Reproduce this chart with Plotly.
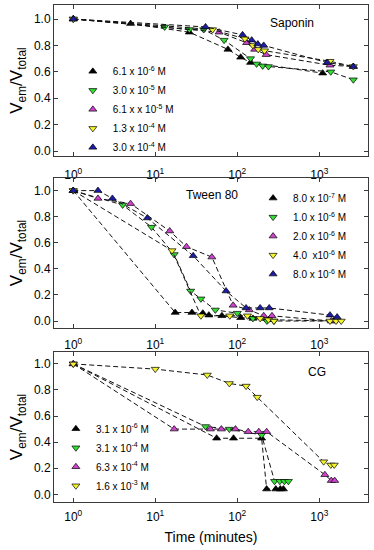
import plotly.graph_objects as go

# ---------------- data ----------------
# Saponin
sap_t_61e6 = [1, 5, 26, 77, 110, 145, 1100]
sap_v_61e6 = [1.0, 0.965, 0.90, 0.77, 0.71, 0.67, 0.59]
sap_t_30e5 = [1, 13, 26, 39, 69, 145, 172, 204, 240, 1380, 2600]
sap_v_30e5 = [1.0, 0.94, 0.92, 0.92, 0.84, 0.70, 0.66, 0.645, 0.64, 0.60, 0.54]
sap_t_61e5 = [1, 60, 130, 163, 225, 1350, 2600]
sap_v_61e5 = [1.0, 0.90, 0.82, 0.77, 0.73, 0.65, 0.64]
sap_t_13e4 = [1, 50, 124, 155, 180, 215, 1350, 2600]
sap_v_13e4 = [1.0, 0.92, 0.85, 0.80, 0.77, 0.76, 0.68, 0.64]
sap_t_30e4 = [1, 41, 116, 150, 178, 210, 1250, 2600]
sap_v_30e4 = [1.0, 0.94, 0.88, 0.84, 0.81, 0.80, 0.67, 0.64]

# Tween 80
tw_t_80e7 = [1, 17.5, 28, 38, 45, 65, 110, 155, 240, 1500]
tw_v_80e7 = [1.0, 0.065, 0.065, 0.06, 0.045, 0.04, 0.025, 0.02, 0.01, 0.0]
tw_t_10e6 = [1, 4, 9, 17, 27, 36, 54, 100, 155, 230, 280]
tw_v_10e6 = [1.0, 0.89, 0.72, 0.51, 0.23, 0.17, 0.085, 0.06, 0.02, 0.0, 0.0]
tw_t_20e6 = [1, 2, 5, 15, 24, 49, 89, 140, 210, 265, 1400]
tw_v_20e6 = [1.0, 0.94, 0.90, 0.69, 0.57, 0.49, 0.12, 0.085, 0.04, 0.04, 0.0]
tw_t_40e6 = [1, 16, 36, 81, 133, 190, 240, 280, 1350, 1600, 1850]
tw_v_40e6 = [1.0, 0.54, 0.04, 0.04, 0.04, 0.02, 0.01, 0.0, 0.0, 0.0, 0.0]
tw_t_80e6 = [1, 2, 3, 8, 29, 73, 128, 190, 245, 1350, 1650]
tw_v_80e6 = [1.0, 1.0, 0.94, 0.79, 0.50, 0.23, 0.10, 0.10, 0.10, 0.045, 0.03]

# CG
cg_t_31e6 = [1, 56, 90, 198, 228, 295, 335, 365]
cg_v_31e6 = [1.0, 0.43, 0.43, 0.43, 0.04, 0.04, 0.04, 0.04]
cg_t_31e4 = [1, 41, 80, 198, 285, 330, 375, 420]
cg_v_31e4 = [1.0, 0.52, 0.50, 0.455, 0.10, 0.10, 0.10, 0.10]
cg_t_63e4 = [1, 17, 47, 64, 95, 136, 183, 228, 1170, 1400, 1540]
cg_v_63e4 = [1.0, 0.50, 0.50, 0.50, 0.50, 0.48, 0.48, 0.48, 0.15, 0.105, 0.105]
cg_t_16e3 = [1, 10, 43, 80, 128, 175, 1130, 1380, 1520]
cg_v_16e3 = [1.0, 0.96, 0.915, 0.85, 0.83, 0.745, 0.25, 0.225, 0.225]

sap_labels = ["6.1 x 10<sup>-6</sup> M", "3.0 x 10<sup>-5</sup> M", "6.1 x x 10<sup>-5</sup> M",
              "1.3 x 10<sup>-4</sup> M", "3.0 x 10<sup>-4</sup> M"]
tw_labels = ["8.0 x 10<sup>-7</sup> M", "1.0 x 10<sup>-6</sup> M", "2.0 x 10<sup>-6</sup> M",
             "4.0 \u00a0x10<sup>-6</sup> M", "8.0 x 10<sup>-6</sup> M"]
cg_labels = ["3.1 x 10<sup>-6</sup> M", "3.1 x 10<sup>-4</sup> M", "6.3 x 10<sup>-4</sup> M",
             "1.6 x 10<sup>-3</sup> M"]

x_tickvals = [1, 10, 100, 1000]
x_ticktext = ["10<sup>0</sup>", "10<sup>1</sup>", "10<sup>2</sup>", "10<sup>3</sup>"]
y_tickvals = [0.0, 0.2, 0.4, 0.6, 0.8, 1.0]

# ---------------- style ----------------
BLACK = "#000000"
GREEN = "#33dd33"
MAGENTA = "#cc44cc"
YELLOW = "#f4f42a"
NAVY = "#1c1ca6"
UP, DOWN = "triangle-up", "triangle-down"

FONT = "Liberation Sans, Arial, sans-serif"
AXC = "#3a3a3a"

panels = [
    dict(xa="x", ya="y", legend="legend", labels=sap_labels,
         series=[(sap_t_61e6, sap_v_61e6, BLACK, UP), (sap_t_30e5, sap_v_30e5, GREEN, DOWN),
                 (sap_t_61e5, sap_v_61e5, MAGENTA, UP), (sap_t_13e4, sap_v_13e4, YELLOW, DOWN),
                 (sap_t_30e4, sap_v_30e4, NAVY, UP)]),
    dict(xa="x2", ya="y2", legend="legend2", labels=tw_labels,
         series=[(tw_t_80e7, tw_v_80e7, BLACK, UP), (tw_t_10e6, tw_v_10e6, GREEN, DOWN),
                 (tw_t_20e6, tw_v_20e6, MAGENTA, UP), (tw_t_40e6, tw_v_40e6, YELLOW, DOWN),
                 (tw_t_80e6, tw_v_80e6, NAVY, UP)]),
    dict(xa="x3", ya="y3", legend="legend3", labels=cg_labels,
         series=[(cg_t_31e6, cg_v_31e6, BLACK, UP), (cg_t_31e4, cg_v_31e4, GREEN, DOWN),
                 (cg_t_63e4, cg_v_63e4, MAGENTA, UP), (cg_t_16e3, cg_v_16e3, YELLOW, DOWN)]),
]

fig = go.Figure()
for p in panels:
    for (t, v, col, sym) in p["series"]:
        fig.add_trace(go.Scatter(
            x=t, y=v, xaxis=p["xa"], yaxis=p["ya"], mode="lines+markers",
            line=dict(color="#111111", width=1, dash="5px,3px"),
            marker=dict(symbol=sym, size=7, color=col, line=dict(color="black", width=0.7)),
            showlegend=False, hoverinfo="skip"))
    for lab, (t, v, col, sym) in zip(p["labels"], p["series"]):
        fig.add_trace(go.Scatter(
            x=[None], y=[None], xaxis=p["xa"], yaxis=p["ya"], mode="markers", name=lab,
            marker=dict(symbol=sym, size=7, color=col, line=dict(color="black", width=0.7)),
            legend=p["legend"], showlegend=True))

axis_common = dict(showline=True, linecolor=AXC, linewidth=1, mirror="ticks",
                   ticks="inside", ticklen=4, tickcolor=AXC, tickwidth=1,
                   showgrid=False, zeroline=False,
                   tickfont=dict(family=FONT, size=12, color="black"))

ytitle = dict(text="V<sub>em</sub>/V<sub>total</sub>", font=dict(family=FONT, size=17, color="black"),
              standoff=6)

domains = [[0.696, 1.0], [0.35, 0.652], [0.0, 0.302]]
yranges = [[-0.038, 1.106], [-0.054, 1.097], [-0.059, 1.092]]
xlabel_standoffs = [8, 6, 4]
xrange_log = [-0.235, 3.594]

layout = dict(
    width=374, height=550,
    margin=dict(l=54, r=6, t=5, b=48),
    paper_bgcolor="white", plot_bgcolor="white",
    font=dict(family=FONT, size=12, color="black"),
)
for i, (dom, yr, so) in enumerate(zip(domains, yranges, xlabel_standoffs)):
    sfx = "" if i == 0 else str(i + 1)
    xa = dict(axis_common, type="log", range=xrange_log, tickvals=x_tickvals, ticktext=x_ticktext,
              anchor="y" + sfx, ticklabelstandoff=so)
    if i == 2:
        xa["title"] = dict(text="Time (minutes)", font=dict(family=FONT, size=14, color="black"),
                           standoff=8)
    else:
        xa["matches"] = "x3"
    ya = dict(axis_common, domain=dom, range=yr, tickvals=y_tickvals, tickformat=".1f",
              anchor="x" + sfx, title=ytitle)
    layout["xaxis" + sfx] = xa
    layout["yaxis" + sfx] = ya

leg_common = dict(font=dict(family=FONT, size=10, color="black"), bgcolor="rgba(0,0,0,0)",
                  borderwidth=0, itemwidth=30, tracegroupgap=0)
layout["legend"] = dict(leg_common, x=0.06, y=0.79, xanchor="left", yanchor="middle")
layout["legend2"] = dict(leg_common, x=0.634, y=0.535, xanchor="left", yanchor="middle")
layout["legend3"] = dict(leg_common, x=0.006, y=0.09, xanchor="left", yanchor="middle")

layout["annotations"] = [
    dict(text="Saponin", x=0.757, y=0.963, xref="paper", yref="paper", showarrow=False,
         xanchor="center", yanchor="middle", font=dict(family=FONT, size=12)),
    dict(text="Tween 80", x=0.502, y=0.618, xref="paper", yref="paper", showarrow=False,
         xanchor="center", yanchor="middle", font=dict(family=FONT, size=12)),
    dict(text="CG", x=0.837, y=0.262, xref="paper", yref="paper", showarrow=False,
         xanchor="center", yanchor="middle", font=dict(family=FONT, size=12)),
]

fig.update_layout(**layout)
fig.write_html("out.html", config={"displayModeBar": False},
               post_script="document.body.style.margin='0px';document.body.style.padding='0px';")
